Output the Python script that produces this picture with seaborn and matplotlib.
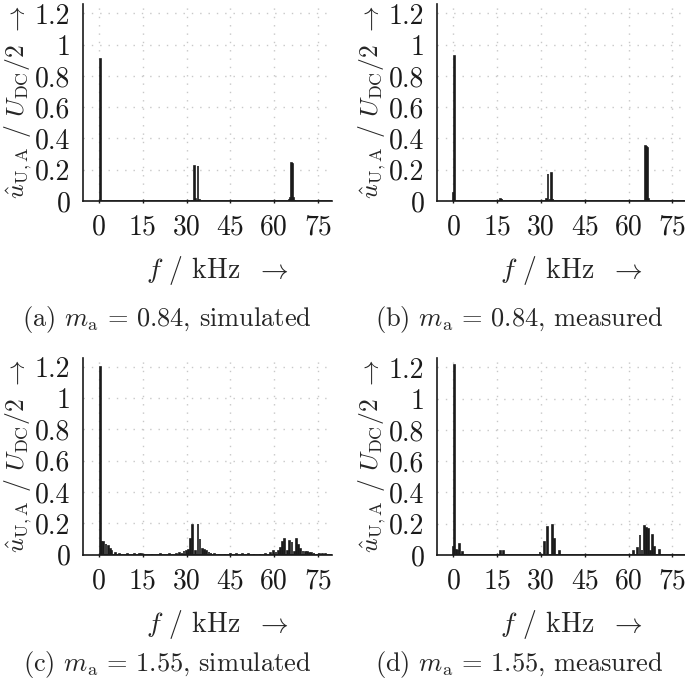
import matplotlib
matplotlib.use("Agg")
import matplotlib.pyplot as plt
import numpy as np
import seaborn as sns

sns.set_theme(style="ticks")
plt.rcParams['font.family'] = 'serif'
plt.rcParams['font.serif'] = ['cmr10', 'DejaVu Serif']
plt.rcParams['mathtext.fontset'] = 'cm'
plt.rcParams['axes.formatter.use_mathtext'] = True
plt.rcParams['axes.unicode_minus'] = False

# spectra (frequency in kHz, amplitude in U_DC/2)
F_A = [0.4, 31.9, 32.5, 33.2, 33.8, 34.4, 65.2, 65.5, 65.8, 66.1, 66.4, 66.7, 67.0]
A_A = [0.91, 0.008, 0.222, 0.01, 0.226, 0.008, 0.008, 0.02, 0.245, 0.24, 0.235, 0.02, 0.008]

F_B = [0.0, 0.4, 16.2, 16.6, 31.9, 32.3, 33.0, 33.5, 34.0, 65.8, 66.1, 66.4, 66.8]
A_B = [0.05, 0.925, 0.012, 0.015, 0.015, 0.17, 0.015, 0.18, 0.01, 0.35, 0.345, 0.34, 0.015]

F_C = [0.3, 0.9, 1.7, 2.4, 3.1, 3.8, 4.4, 5.6, 7.0, 9.5, 12.0, 13.8, 14.6, 15.4,
       18.0, 21.0, 24.0, 26.5, 27.6, 28.3, 29.1, 29.8, 30.6, 31.4, 32.2, 33.0,
       33.8, 34.6, 35.4, 36.1, 36.9, 37.7, 38.4, 39.5, 41.0, 43.0, 45.0, 47.0,
       49.0, 51.0, 53.0, 55.0, 57.0, 58.5, 59.9, 60.6, 61.4, 62.2, 62.9, 63.7,
       64.5, 65.2, 66.0, 66.8, 67.5, 68.3, 69.1, 69.8, 70.5, 71.3, 72.0, 72.8,
       73.6, 74.5, 75.5, 76.5, 77.5]
A_C = [1.2, 0.081, 0.077, 0.066, 0.053, 0.032, 0.02, 0.012, 0.004, 0.003, 0.004,
       0.006, 0.006, 0.005, 0.004, 0.004, 0.004, 0.006, 0.008, 0.012, 0.02, 0.022,
       0.03, 0.098, 0.19, 0.02, 0.193, 0.1, 0.035, 0.03, 0.025, 0.018, 0.01, 0.006,
       0.004, 0.004, 0.004, 0.004, 0.005, 0.004, 0.004, 0.005, 0.006, 0.008, 0.022,
       0.018, 0.025, 0.044, 0.08, 0.1, 0.022, 0.088, 0.083, 0.018, 0.1, 0.06, 0.033,
       0.022, 0.018, 0.015, 0.012, 0.01, 0.007, 0.005, 0.004, 0.004, 0.003]

F_D = [0.0, 0.45, 1.15, 1.7, 2.2, 3.0, 16.1, 17.0, 29.7, 31.1, 32.2, 33.9, 34.6,
       36.4, 61.6, 63.1, 63.9, 64.7, 65.4, 66.2, 66.8, 67.4, 68.2, 68.8, 70.5]
A_D = [0.05, 1.215, 0.035, 0.035, 0.072, 0.02, 0.026, 0.026, 0.02, 0.085, 0.18,
       0.19, 0.1, 0.025, 0.025, 0.045, 0.125, 0.03, 0.185, 0.17, 0.165, 0.025,
       0.125, 0.05, 0.03]

CAPTIONS = [r"(a) $m_\mathrm{a}\,=\,0.84$, simulated",
            r"(b) $m_\mathrm{a}\,=\,0.84$, measured",
            r"(c) $m_\mathrm{a}\,=\,1.55$, simulated",
            r"(d) $m_\mathrm{a}\,=\,1.55$, measured"]

XTICKS = [0, 15, 30, 45, 60, 75]
YTICKS = [0, 0.2, 0.4, 0.6, 0.8, 1.0, 1.2]
YTICKLABELS = ["0", "0.2", "0.4", "0.6", "0.8", "1", "1.2"]

W, H = 685, 688
fig = plt.figure(figsize=(W / 100, H / 100), dpi=100)

# (left px, baseline px from top, right px, x-left limit, x-right limit)
panels = [
    (83, 201, 332, -5.5, 79.8),
    (437, 201, 685, -5.6, 79.3),
    (83, 554.5, 332, -5.5, 79.8),
    (437, 555, 685, -5.6, 79.3),
]
caps = [(167, 320), (519, 320), (167, 665), (519, 665)]
data = [(F_A, A_A), (F_B, A_B), (F_C, A_C), (F_D, A_D)]

YTOP = 1.26
PX_PER_UNIT = 156.3

for (left, base, right, x0, x1), (f, a), cap, (cx, cy) in zip(panels, data, CAPTIONS, caps):
    hgt = YTOP * PX_PER_UNIT
    ax = fig.add_axes([left / W, (H - base) / H, (right - left) / W, hgt / H])
    sns.histplot(x=f, weights=a, binwidth=0.25, binrange=(0, 80), color="k",
                 alpha=1, edgecolor="k", linewidth=1.2, ax=ax)
    ax.set_xlim(x0, x1)
    ax.set_ylim(0, YTOP)
    ax.set_xticks(XTICKS)
    ax.set_xticklabels([str(t) for t in XTICKS])
    ax.set_yticks(YTICKS)
    ax.set_yticklabels(YTICKLABELS)
    ax.grid(True, color="#c8c8c8", linestyle=(0, (1, 5)), linewidth=1.0)
    ax.set_axisbelow(True)
    for s in ["top", "right"]:
        ax.spines[s].set_visible(False)
    for s in ["left", "bottom"]:
        ax.spines[s].set_linewidth(1.2)
        ax.spines[s].set_color("k")
    ax.tick_params(axis="x", length=3, width=1, direction="inout", pad=8,
                   labelsize=20, colors="k")
    ax.tick_params(axis="y", length=0, pad=9, labelsize=20, colors="k")
    ax.set_xlabel(r"$f$ / kHz $\;\rightarrow$", fontsize=20, labelpad=6)
    ax.xaxis.set_label_coords(0.54, -0.27)
    ax.set_ylabel(r"$\hat{u}_{\mathrm{U,A}}$ / $U_{\mathrm{DC}}/2$ $\rightarrow$",
                  fontsize=18.5, labelpad=1)
    fig.text(cx / W, 1 - cy / H, cap, ha="center", va="center", fontsize=19)

fig.savefig("out.png", dpi=100)
